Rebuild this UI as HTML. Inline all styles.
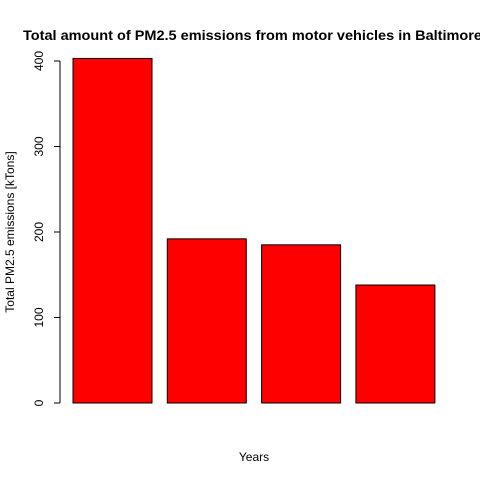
<!DOCTYPE html>
<html><head><meta charset="utf-8"><style>
body{margin:0;background:#fff;overflow:hidden}
svg{display:block;font-family:"Liberation Sans",Arial,sans-serif}
</style></head><body>
<svg id="chart" width="480" height="480" viewBox="0 0 480 480">
<text x="23" y="40" font-size="14" textLength="459" lengthAdjust="spacingAndGlyphs" font-weight="bold">Total amount of PM2.5 emissions from motor vehicles in Baltimore</text>
<text x="254" y="461" font-size="12" text-anchor="middle">Years</text>
<text transform="translate(14,232) rotate(-90)" font-size="12" text-anchor="middle">Total PM2.5 emissions [kTons]</text>
<g id="bars"></g>
<g id="yaxis"></g>
</svg>
<script>
const categories=["1999","2002","2005","2008"];
const values=[403,192,185,138];
const ticks=[0,100,200,300,400];
const ns="http://www.w3.org/2000/svg";
const y0=403, pxPer=0.855;
function yScale(v){return y0-v*pxPer;}
function xScale(i){return 73+i*94.3;}
const bw=79;
const bars=document.getElementById('bars');
values.forEach((v,i)=>{
 const r=document.createElementNS(ns,'rect');
 r.setAttribute('x',xScale(i));r.setAttribute('y',yScale(v));
 r.setAttribute('width',bw);r.setAttribute('height',y0-yScale(v));
 r.setAttribute('fill','#ff0000');r.setAttribute('stroke','#000');r.setAttribute('stroke-width','1');
 
 
 bars.appendChild(r);
});
const ya=document.getElementById('yaxis');
const l=document.createElementNS(ns,'line');
l.setAttribute('x1',60);l.setAttribute('x2',60);l.setAttribute('y1',yScale(ticks[0]));l.setAttribute('y2',yScale(ticks[ticks.length-1]));
l.setAttribute('stroke','#000');


ya.appendChild(l);
ticks.forEach(t=>{
 const y=yScale(t);
 const tk=document.createElementNS(ns,'line');
 tk.setAttribute('x1',54);tk.setAttribute('x2',60);tk.setAttribute('y1',y);tk.setAttribute('y2',y);tk.setAttribute('stroke','#000');
 
 
 ya.appendChild(tk);
 const tx=document.createElementNS(ns,'text');
 tx.setAttribute('transform','translate(43,'+y+') rotate(-90)');
 tx.setAttribute('text-anchor','middle');tx.setAttribute('font-size','12');
 tx.textContent=t;
 
 
 ya.appendChild(tx);
});
</script>
</body></html>
